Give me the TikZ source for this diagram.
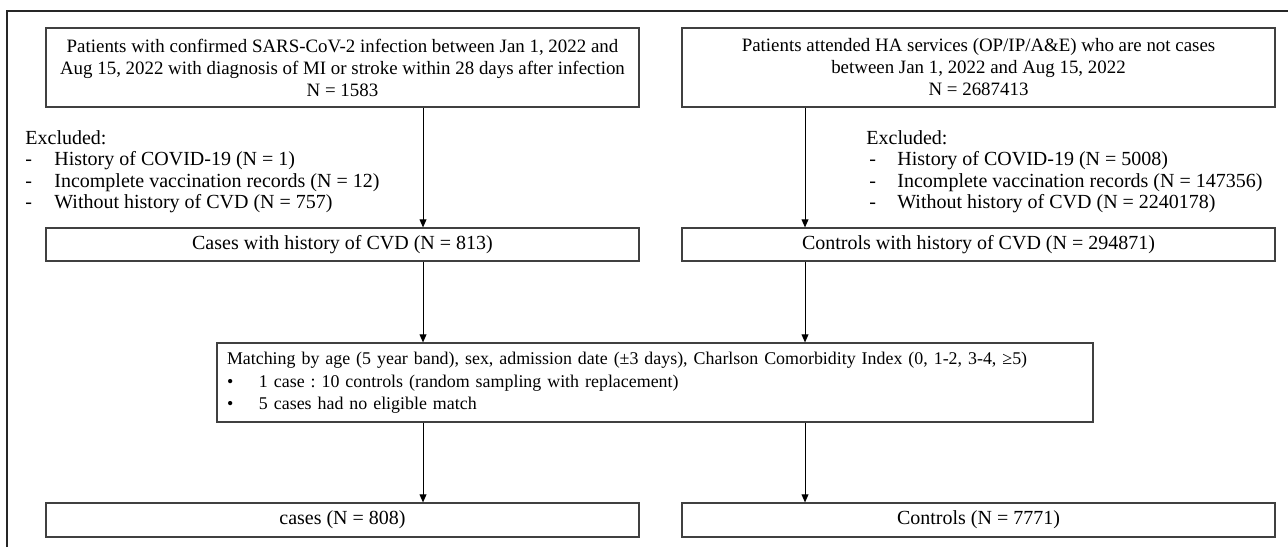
\documentclass[tikz,border=0pt]{standalone}
\usepackage{fontspec}
\setmainfont{Liberation Serif}
\frenchspacing
\usetikzlibrary{arrows.meta}
\begin{document}
\begin{tikzpicture}[x=0.5pt,y=-0.5pt,
        box/.style={draw=black!75, line width=0.6pt, minimum width=296.5pt, align=center, inner sep=0pt, font=\fontsize{10}{11}\selectfont},
        srcbox/.style={box, minimum height=39.5pt, font=\fontsize{9.45}{11}\selectfont},
        note/.style={inner sep=0pt, anchor=north west, font=\fontsize{10}{10.75}\selectfont},
        arr/.style={-{Triangle[length=4pt,width=3.4pt]}, line width=0.5pt}]
        \useasboundingbox (0,0) rectangle (1288,547);
        \draw[line width=1pt, black!85] (7,547) -- (7,11) -- (1288,11); %frame

        \node[srcbox] (infected) at (342.5,67.5) {Patients with confirmed SARS-CoV-2 infection between Jan 1, 2022 and\\Aug 15, 2022 with diagnosis of MI or stroke within 28 days after infection\\N = 1583}; %cases source
        \node[srcbox] (attended) at (978.5,67.5) {Patients attended HA services (OP/IP/A\&E) who are not cases\\between Jan 1, 2022 and Aug 15, 2022\\N = 2687413}; %controls source

        \node[note] (exclcases) at (25,129) {\begin{tabular}{@{}p{14.5pt}@{}l@{}}
            \multicolumn{2}{@{}l@{}}{Excluded:}\\
            - & History of COVID-19 (N = 1)\\
            - & Incomplete vaccination records (N = 12)\\
            - & Without history of CVD (N = 757)
        \end{tabular}}; %excluded cases
        \node[note] (exclcontrols) at (866,129) {\begin{tabular}{@{}p{15.5pt}@{}l@{}}
            \multicolumn{2}{@{}l@{}}{Excluded:}\\
            \hspace{1.5pt}- & History of COVID-19 (N = 5008)\\
            \hspace{1.5pt}- & Incomplete vaccination records (N = 147356)\\
            \hspace{1.5pt}- & Without history of CVD (N = 2240178)
        \end{tabular}}; %excluded controls

        \node[box, minimum height=16.5pt] (casescvd) at (342.5,244.5) {Cases with history of CVD (N = 813)};
        \node[box, minimum height=16.5pt] (controlscvd) at (978.5,244.5) {Controls with history of CVD (N = 294871)};

        \node[box, minimum height=39.5pt, text width=428pt, inner xsep=5pt, align=left, font=\fontsize{8.95}{11.25}\selectfont] (matching) at (655,382.5) {\noindent\begin{tabular}{@{}p{16pt}@{}l@{}}
            \multicolumn{2}{@{}l@{}}{Matching by age (5 year band), sex, admission date (±3 days), Charlson Comorbidity Index (0, 1-2, 3-4, ≥5)}\\
            • & 1 case : 10 controls (random sampling with replacement)\\
            • & 5 cases had no eligible match
        \end{tabular}}; %matching

        \node[box, minimum height=17pt] (cases) at (342.5,520) {cases (N = 808)};
        \node[box, minimum height=17pt] (controls) at (978.5,520) {Controls (N = 7771)};

        \coordinate (lx) at (423,0);
        \coordinate (rx) at (805,0);
        \draw[arr] (infected.south -| lx) -- (casescvd.north -| lx);
        \draw[arr] (attended.south -| rx) -- (controlscvd.north -| rx);
        \draw[arr] (casescvd.south -| lx) -- (matching.north -| lx);
        \draw[arr] (controlscvd.south -| rx) -- (matching.north -| rx);
        \draw[arr] (matching.south -| lx) -- (cases.north -| lx);
        \draw[arr] (matching.south -| rx) -- (controls.north -| rx);
    \end{tikzpicture}
\end{document}
